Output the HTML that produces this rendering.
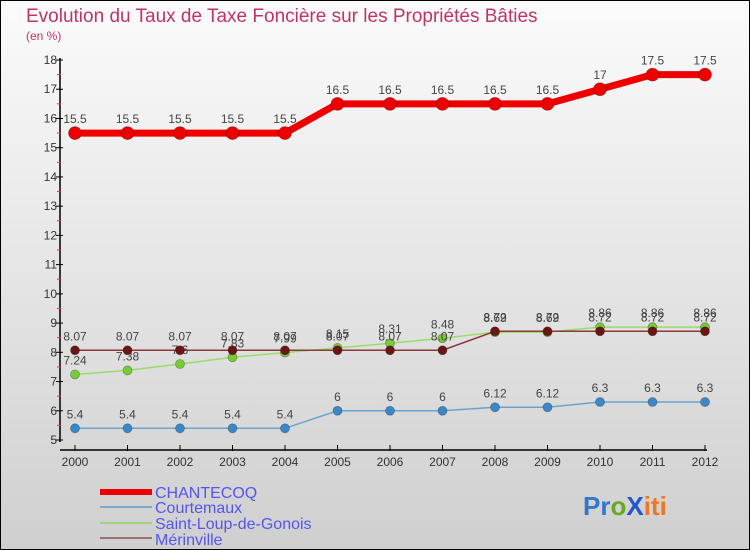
<!DOCTYPE html>
<html><head><meta charset="utf-8"><style>
body{margin:0;width:750px;height:550px;overflow:hidden;font-family:"Liberation Sans",sans-serif}
svg{display:block}
</style></head><body>
<svg id="c" width="750" height="550" xmlns="http://www.w3.org/2000/svg">
<defs><linearGradient id="bg" x1="0" y1="0" x2="0" y2="1"><stop offset="0" stop-color="#fbfbfb"/><stop offset="1" stop-color="#cfcfcf"/></linearGradient></defs>
<rect x="0.5" y="0.5" width="749" height="549" fill="url(#bg)" stroke="#000"/>
<text x="26" y="22" font-size="19" fill="#c0336a">Evolution du Taux de Taxe Foncière sur les Propriétés Bâties</text>
<text x="26" y="40" font-size="12" fill="#c0336a">(en %)</text>
<g id="axes"></g><g id="series"></g>
<g font-size="16" fill="#5555ee">
<line x1="100" y1="492" x2="152" y2="492" stroke="#ee0000" stroke-width="6"/>
<text x="155" y="498">CHANTECOQ</text>
<line x1="100" y1="507" x2="152" y2="507" stroke="#7fa7c8" stroke-width="2"/>
<text x="155" y="513">Courtemaux</text>
<line x1="100" y1="523" x2="152" y2="523" stroke="#9ed27f" stroke-width="2"/>
<text x="155" y="529">Saint-Loup-de-Gonois</text>
<line x1="100" y1="538" x2="152" y2="538" stroke="#9a7070" stroke-width="2"/>
<text x="155" y="545">Mérinville</text>
</g>
<text x="583" y="515" font-size="26" font-weight="bold"><tspan fill="#3377cc">Pr</tspan><tspan fill="#66aa22">o</tspan><tspan fill="#2255cc">X</tspan><tspan fill="#ee7722">iti</tspan></text>
</svg>
<script>
const years=[2000,2001,2002,2003,2004,2005,2006,2007,2008,2009,2010,2011,2012];
const yTicks=[5,6,7,8,9,10,11,12,13,14,15,16,17,18];
const chantecoq=[15.5,15.5,15.5,15.5,15.5,16.5,16.5,16.5,16.5,16.5,17,17.5,17.5];
const courtemaux=[5.4,5.4,5.4,5.4,5.4,6,6,6,6.12,6.12,6.3,6.3,6.3];
const saintLoup=[7.24,7.38,7.6,7.83,7.99,8.15,8.31,8.48,8.69,8.69,8.86,8.86,8.86];
const merinville=[8.07,8.07,8.07,8.07,8.07,8.07,8.07,8.07,8.72,8.72,8.72,8.72,8.72];
const NS='http://www.w3.org/2000/svg';
const X=i=>75+i*52.5;
const Y=v=>440-(v-5)*(380/13);
function mk(tag,attrs,parent){const e=document.createElementNS(NS,tag);for(const k in attrs)e.setAttribute(k,attrs[k]);parent.appendChild(e);return e;}
const ax=document.getElementById('axes');
let l=mk('line',{x1:60,y1:58,x2:60,y2:442,stroke:'#000','stroke-width':1.5},ax);


l=mk('line',{x1:60,y1:450,x2:707,y2:450,stroke:'#000','stroke-width':1.5},ax);


yTicks.forEach(v=>{
 const t=mk('line',{x1:56,y1:Y(v),x2:63,y2:Y(v),stroke:'#000'},ax);
 
 
 if(v<18){const m=mk('line',{x1:57,y1:Y(v+0.5),x2:61,y2:Y(v+0.5),stroke:'#e33'},ax);
 
 }
 const tx=mk('text',{x:57,y:Y(v)+4,'font-size':12,fill:'#333','text-anchor':'end'},ax);tx.textContent=v;
 
 
});
years.forEach((yr,i)=>{
 const t=mk('line',{x1:X(i),y1:445,x2:X(i),y2:451,stroke:'#000'},ax);
 
 
 const tx=mk('text',{x:X(i),y:466,'font-size':12,fill:'#333','text-anchor':'middle'},ax);tx.textContent=yr;
 
 
});
const sg=document.getElementById('series');
function series(vals,name,lc,lw,pc,r){
 const g=mk('g',{},sg);
 
 
 const p=mk('polyline',{points:vals.map((v,i)=>X(i)+','+Y(v)).join(' '),fill:'none',stroke:lc,'stroke-width':lw},g);
 
 
 vals.forEach((v,i)=>{
  const c=mk('circle',{cx:X(i),cy:Y(v),r:r,fill:pc,stroke:'rgba(0,0,0,0.3)','stroke-width':0.8},g);
  
  
  const t=mk('text',{x:X(i),y:Y(v)-10,'font-size':12,fill:'#444','text-anchor':'middle'},g);t.textContent=v;
  
  
 });
}
series(courtemaux,'courtemaux','#6aa3d0',1.5,'#3b88c8',4.5);
series(saintLoup,'saint-loup','#99dd66',1.5,'#77cc33',4.5);
series(merinville,'merinville','#8a3a3a',1.5,'#6b1515',4.5);
series(chantecoq,'chantecoq','#ee0000',7,'#ee0000',6.5);
</script>
</body></html>
